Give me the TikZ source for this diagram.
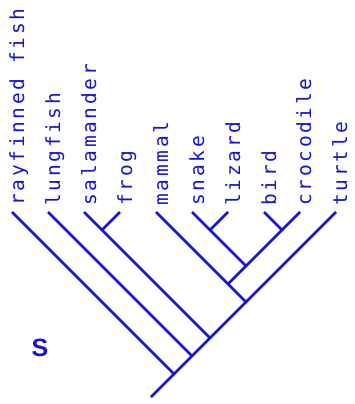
\documentclass[tikz,border=0pt]{standalone}
\usepackage{fontspec}
\newfontfamily\taxonfont[LetterSpace=14]{DejaVu Sans Mono}
\newfontfamily\tagfont{Liberation Sans}
\definecolor{cladeblue}{RGB}{20,20,210}
\usetikzlibrary{positioning}

\begin{document}
\begin{tikzpicture}[
    x=1pt, y=-1pt,
    branch/.style={draw=cladeblue, line width=2.6pt},
    taxon/.style={rotate=90, anchor=base west, inner sep=0pt, text=cladeblue, font=\taxonfont\fontsize{19.5}{22}\selectfont},
    tag/.style={inner sep=0pt, text=cladeblue, font=\tagfont\bfseries\fontsize{25}{25}\selectfont}
  ]
    \useasboundingbox (0,0) rectangle (354,404);
    % tips
    \coordinate (tRf) at (12,212);
    \coordinate (tLf) at (48,212);
    \coordinate (tSal) at (84,212);
    \coordinate (tFrog) at (120,212);
    \coordinate (tMam) at (156,212);
    \coordinate (tSnake) at (192,212);
    \coordinate (tLiz) at (228,212);
    \coordinate (tBird) at (264,212);
    \coordinate (tCroc) at (300,212);
    \coordinate (tTurtle) at (336,212);
    % branching points
    \coordinate (root) at (151,397);
    \coordinate (jRf) at (174,374);
    \coordinate (jLf) at (192,356);
    \coordinate (jSal) at (210,338);
    \coordinate (jFrog) at (102,230);
    \coordinate (jMam) at (246,302);
    \coordinate (jAmn) at (228,284);
    \coordinate (jRept) at (246,266);
    \coordinate (jSnLz) at (210,230);
    \coordinate (jBdCr) at (282,230);
    % branches
    \draw[branch] (root) -- (tTurtle);
    \draw[branch] (tRf) -- (jRf);
    \draw[branch] (tLf) -- (jLf);
    \draw[branch] (tSal) -- (jSal);
    \draw[branch] (tFrog) -- (jFrog);
    \draw[branch] (tMam) -- (jMam);
    \draw[branch] (tCroc) -- (jAmn);
    \draw[branch] (tSnake) -- (jRept);
    \draw[branch] (tLiz) -- (jSnLz);
    \draw[branch] (tBird) -- (jBdCr);
    % names
    \node[taxon] (lRf) at (24,206) {rayfinned fish};
    \node[taxon] (lLf) at (60,206) {lungfish};
    \node[taxon] (lSal) at (96,206) {salamander};
    \node[taxon] (lFrog) at (132,206) {frog};
    \node[taxon] (lMam) at (168,206) {mammal};
    \node[taxon] (lSnake) at (204,206) {snake};
    \node[taxon] (lLiz) at (240,206) {lizard};
    \node[taxon] (lBird) at (276,206) {bird};
    \node[taxon] (lCroc) at (311,206) {crocodile};
    \node[taxon] (lTurtle) at (347,206) {turtle};
    \node[tag] (label) at (40,348) {S};
  \end{tikzpicture}
\end{document}
